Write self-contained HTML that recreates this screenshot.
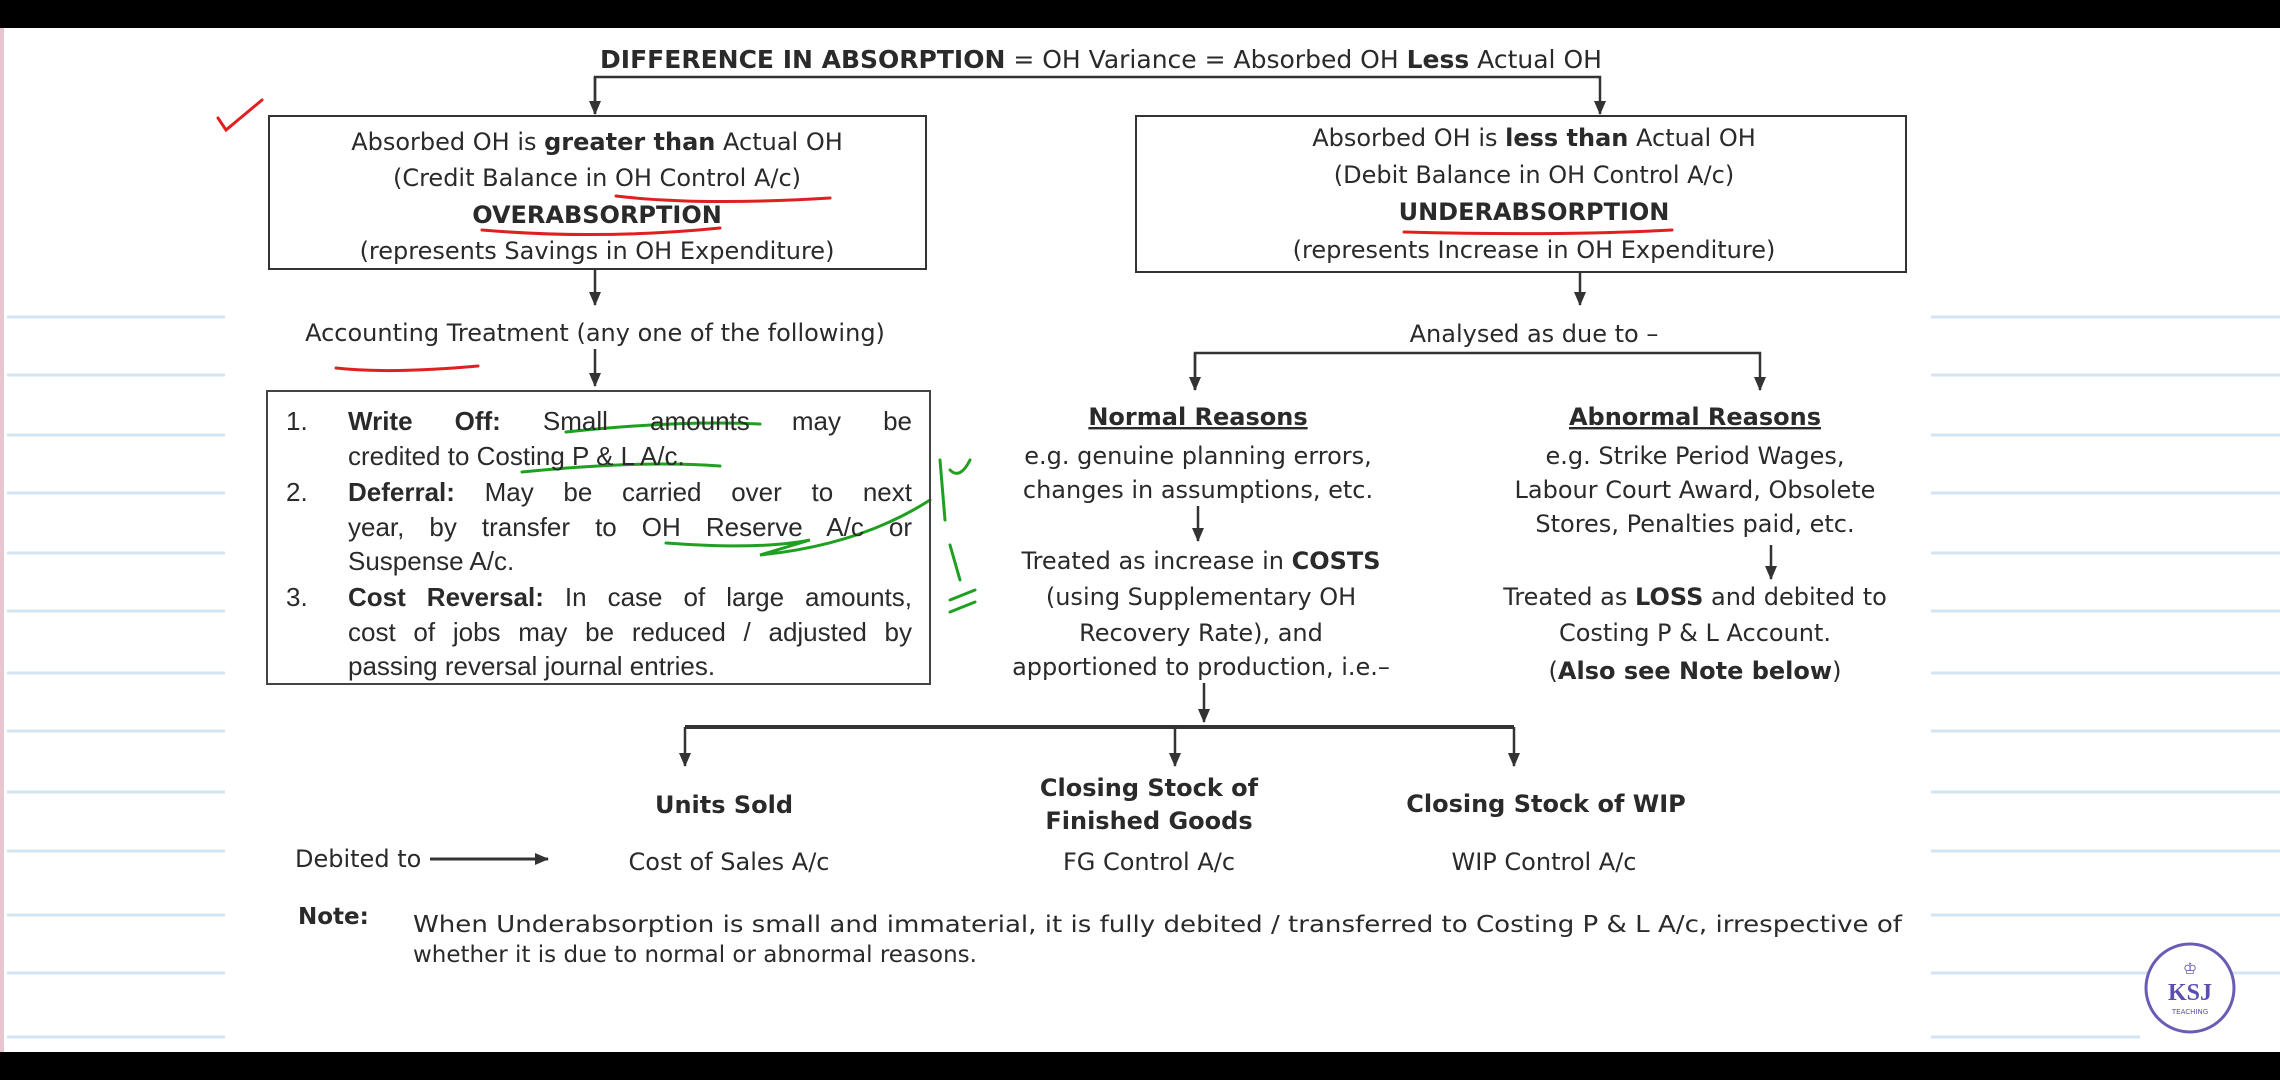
<!DOCTYPE html>
<html><head><meta charset="utf-8"><style>
html,body{margin:0;padding:0;background:#000;}
#pg{position:absolute;left:0;top:0;width:2280px;height:1080px;overflow:hidden;background:#000;}
#w{position:absolute;left:0;top:28px;width:2280px;height:1024px;background:#fff;}
svg{position:absolute;left:0;top:0;}
text{font-family:"DejaVu Sans",sans-serif;fill:#2a2a2a;font-size:24px;}
.b{font-weight:bold;}
#list{position:absolute;left:266px;top:390px;width:665px;height:295px;border:2px solid #444;box-sizing:border-box;font-family:"Liberation Sans",sans-serif;font-size:26px;color:#2a2a2a;line-height:35px;}
.l{position:absolute;left:80px;width:564px;white-space:nowrap;text-align:justify;text-align-last:justify;}
.e{text-align-last:left;}
.n{position:absolute;left:18px;}
</style></head><body><div id="pg"><div id="w"></div>
<svg width="2280" height="1080" viewBox="0 0 2280 1080">
<defs><marker id="a" markerWidth="14" markerHeight="12" refX="13" refY="6" orient="auto" markerUnits="userSpaceOnUse"><path d="M0,0 L14,6 L0,12 Z" fill="#333"/></marker></defs>
<rect x="0" y="28" width="4" height="1024" fill="#e9c6cf"/>
<g stroke="#d3e5f2" stroke-width="3">
<line x1="7" y1="317" x2="225" y2="317"/><line x1="7" y1="375" x2="225" y2="375"/><line x1="7" y1="435" x2="225" y2="435"/><line x1="7" y1="493" x2="225" y2="493"/><line x1="7" y1="553" x2="225" y2="553"/><line x1="7" y1="611" x2="225" y2="611"/><line x1="7" y1="673" x2="225" y2="673"/><line x1="7" y1="731" x2="225" y2="731"/><line x1="7" y1="792" x2="225" y2="792"/><line x1="7" y1="851" x2="225" y2="851"/><line x1="7" y1="915" x2="225" y2="915"/><line x1="7" y1="973" x2="225" y2="973"/><line x1="7" y1="1037" x2="225" y2="1037"/>
<line x1="1931" y1="317" x2="2280" y2="317"/><line x1="1931" y1="375" x2="2280" y2="375"/><line x1="1931" y1="435" x2="2280" y2="435"/><line x1="1931" y1="493" x2="2280" y2="493"/><line x1="1931" y1="553" x2="2280" y2="553"/><line x1="1931" y1="611" x2="2280" y2="611"/><line x1="1931" y1="673" x2="2280" y2="673"/><line x1="1931" y1="731" x2="2280" y2="731"/><line x1="1931" y1="792" x2="2280" y2="792"/><line x1="1931" y1="851" x2="2280" y2="851"/><line x1="1931" y1="915" x2="2280" y2="915"/><line x1="1931" y1="973" x2="2280" y2="973"/><line x1="1931" y1="1037" x2="2140" y2="1037"/>
</g>
<text x="1101" y="68" text-anchor="middle" style="font-size:25px"><tspan class="b">DIFFERENCE IN ABSORPTION</tspan> = OH Variance = Absorbed OH <tspan class="b">Less</tspan> Actual OH</text>
<g stroke="#333" stroke-width="2.5" fill="none">
<polyline points="595,114 595,77 1600,77 1600,114" marker-end="url(#a)"/>
<line x1="595" y1="77" x2="595" y2="114" marker-end="url(#a)"/>
<rect x="269" y="116" width="657" height="153" stroke-width="2"/>
<rect x="1136" y="116" width="770" height="156" stroke-width="2"/>
<line x1="595" y1="269" x2="595" y2="305" marker-end="url(#a)"/>
<line x1="595" y1="349" x2="595" y2="386" marker-end="url(#a)"/>
<line x1="1580" y1="272" x2="1580" y2="305" marker-end="url(#a)"/>
<polyline points="1195,390 1195,353 1760,353 1760,390" marker-end="url(#a)"/>
<line x1="1195" y1="353" x2="1195" y2="390" marker-end="url(#a)"/>
<line x1="1198" y1="506" x2="1198" y2="541" marker-end="url(#a)"/>
<line x1="1771" y1="545" x2="1771" y2="579" marker-end="url(#a)"/>
<line x1="1204" y1="683" x2="1204" y2="722" marker-end="url(#a)"/>
<line x1="685" y1="727" x2="1514" y2="727" stroke-width="4"/>
<line x1="685" y1="727" x2="685" y2="766" marker-end="url(#a)"/>
<line x1="1175" y1="727" x2="1175" y2="766" marker-end="url(#a)"/>
<line x1="1514" y1="727" x2="1514" y2="766" marker-end="url(#a)"/>
<line x1="430" y1="859" x2="548" y2="859" stroke-width="3" marker-end="url(#a)"/>
</g>
<text x="597" y="150" text-anchor="middle">Absorbed OH is <tspan class="b">greater than</tspan> Actual OH</text>
<text x="597" y="186" text-anchor="middle">(Credit Balance in OH Control A/c)</text>
<text x="597" y="223" text-anchor="middle" class="b">OVERABSORPTION</text>
<text x="597" y="259" text-anchor="middle">(represents Savings in OH Expenditure)</text>
<text x="1534" y="146" text-anchor="middle">Absorbed OH is <tspan class="b">less than</tspan> Actual OH</text>
<text x="1534" y="183" text-anchor="middle">(Debit Balance in OH Control A/c)</text>
<text x="1534" y="220" text-anchor="middle" class="b">UNDERABSORPTION</text>
<text x="1534" y="258" text-anchor="middle">(represents Increase in OH Expenditure)</text>
<text x="595" y="341" text-anchor="middle">Accounting Treatment (any one of the following)</text>
<text x="1534" y="342" text-anchor="middle">Analysed as due to –</text>
<text x="1198" y="425" text-anchor="middle" class="b" text-decoration="underline">Normal Reasons</text>
<text x="1198" y="464" text-anchor="middle">e.g. genuine planning errors,</text>
<text x="1198" y="498" text-anchor="middle">changes in assumptions, etc.</text>
<text x="1201" y="569" text-anchor="middle">Treated as increase in <tspan class="b">COSTS</tspan></text>
<text x="1201" y="605" text-anchor="middle">(using Supplementary OH</text>
<text x="1201" y="641" text-anchor="middle">Recovery Rate), and</text>
<text x="1201" y="675" text-anchor="middle">apportioned to  production, i.e.–</text>
<text x="1695" y="425" text-anchor="middle" class="b" text-decoration="underline">Abnormal Reasons</text>
<text x="1695" y="464" text-anchor="middle">e.g. Strike Period Wages,</text>
<text x="1695" y="498" text-anchor="middle">Labour Court Award, Obsolete</text>
<text x="1695" y="532" text-anchor="middle">Stores, Penalties paid, etc.</text>
<text x="1695" y="605" text-anchor="middle">Treated as <tspan class="b">LOSS</tspan> and debited to</text>
<text x="1695" y="641" text-anchor="middle">Costing P &amp; L Account.</text>
<text x="1695" y="679" text-anchor="middle">(<tspan class="b">Also see Note below</tspan>)</text>
<text x="724" y="813" text-anchor="middle" class="b">Units Sold</text>
<text x="1149" y="796" text-anchor="middle" class="b">Closing Stock of</text>
<text x="1149" y="829" text-anchor="middle" class="b">Finished Goods</text>
<text x="1546" y="812" text-anchor="middle" class="b">Closing Stock of WIP</text>
<text x="295" y="867">Debited to</text>
<text x="729" y="870" text-anchor="middle">Cost of Sales A/c</text>
<text x="1149" y="870" text-anchor="middle">FG Control A/c</text>
<text x="1544" y="870" text-anchor="middle">WIP Control A/c</text>
<text x="298" y="924" class="b" style="font-size:23px">Note:</text>
<text x="413" y="932" style="font-size:23px" textLength="1489" lengthAdjust="spacingAndGlyphs">When Underabsorption is small and immaterial, it is fully debited / transferred to Costing P &amp; L A/c, irrespective of</text>
<text x="413" y="962" style="font-size:23px">whether it is due to normal or abnormal reasons.</text>
<circle cx="2190" cy="988" r="44" fill="#fff" stroke="#6a5cb5" stroke-width="3"/>
<text x="2190" y="1000" text-anchor="middle" style="fill:#5a4fb0;font-family:'Liberation Serif',serif;font-size:24px;font-weight:bold">KSJ</text>
<text x="2190" y="1014" text-anchor="middle" style="fill:#5a4fb0;font-size:7px">TEACHING</text>
<text x="2190" y="974" text-anchor="middle" style="fill:#5a4fb0;font-size:16px">♔</text>
<g fill="none" stroke-linecap="round">
<path d="M218,118 L226,130 L262,100" stroke="#e02020" stroke-width="3"/>
<path d="M616,196 Q700,206 830,198" stroke="#e02020" stroke-width="3"/>
<path d="M482,230 Q600,240 720,228" stroke="#e02020" stroke-width="3"/>
<path d="M1404,232 Q1560,236 1672,230" stroke="#e02020" stroke-width="3"/>
<path d="M336,368 Q390,374 478,366" stroke="#e02020" stroke-width="3"/>
<path d="M566,432 Q680,420 760,424" stroke="#20a020" stroke-width="3"/>
<path d="M522,472 Q640,460 720,466" stroke="#20a020" stroke-width="3"/>
<path d="M666,543 Q760,550 810,540 L760,555 Q860,545 930,500" stroke="#20a020" stroke-width="3"/>
<path d="M940,460 L945,520 M950,470 Q960,480 970,460 M950,545 L960,580 M950,600 L975,590 M950,612 L975,602" stroke="#20a020" stroke-width="3"/>
</g>
</svg>
<div id="list">
<div class="n" style="top:12px">1.</div>
<div class="l" style="top:12px"><b>Write Off:</b> Small amounts may be</div>
<div class="l e" style="top:47px">credited to Costing P &amp; L A/c.</div>
<div class="n" style="top:83px">2.</div>
<div class="l" style="top:83px"><b>Deferral:</b> May be carried over to next</div>
<div class="l" style="top:118px">year, by transfer to OH Reserve A/c or</div>
<div class="l e" style="top:152px">Suspense A/c.</div>
<div class="n" style="top:188px">3.</div>
<div class="l" style="top:188px"><b>Cost Reversal:</b> In case of large amounts,</div>
<div class="l" style="top:223px">cost of jobs may be reduced / adjusted by</div>
<div class="l e" style="top:257px">passing reversal journal entries.</div>
</div>
</div></body></html>
